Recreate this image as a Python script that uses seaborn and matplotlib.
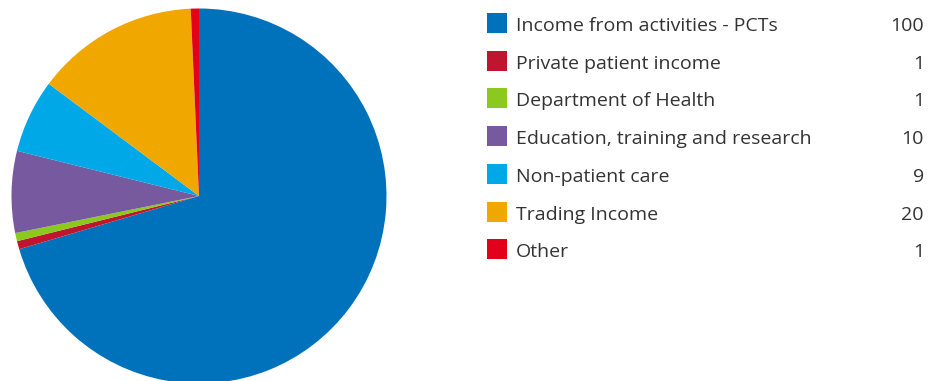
import matplotlib
matplotlib.use("Agg")
import matplotlib.pyplot as plt
from matplotlib.patches import Rectangle
import seaborn as sns

categories = ["Income from activities - PCTs", "Private patient income", "Department of Health",
              "Education, training and research", "Non-patient care", "Trading Income", "Other"]
values = [100, 1, 1, 10, 9, 20, 1]
colors = ["#0072BB", "#C0152F", "#8CC91F", "#7759A0", "#00A8E8", "#F0A800", "#E2001A"]

sns.set_theme(style="white")
plt.rcParams['font.family'] = ['Open Sans', 'DejaVu Sans']

W, H = 932, 381
fig = plt.figure(figsize=(W / 100, H / 100), dpi=100)

# pie axes: center (199,196), radius ~187.5 px
cx, cy, r = 199, 196, 187.5
ax = fig.add_axes([(cx - r) / W, (H - cy - r) / H, 2 * r / W, 2 * r / H])
ax.pie(values, colors=colors, startangle=90, counterclock=False, radius=1,
       wedgeprops=dict(linewidth=0))
ax.set_xlim(-1, 1)
ax.set_ylim(-1, 1)
ax.set_aspect('equal')
ax.axis('off')

# legend
row0, step = 23, 37.7
for i, (cat, val, col) in enumerate(zip(categories, values, colors)):
    yc = row0 + i * step
    fig.patches.append(Rectangle((487 / W, (H - yc - 10) / H), 20 / W, 20 / H,
                                 transform=fig.transFigure, facecolor=col, edgecolor='none'))
    yb = (H - yc - 8) / H
    fig.text(516 / W, yb, cat, ha='left', va='baseline', fontsize=14, color='#333333')
    fig.text(924 / W, yb, str(val), ha='right', va='baseline', fontsize=14, color='#333333')

fig.savefig("out.png", dpi=100)
